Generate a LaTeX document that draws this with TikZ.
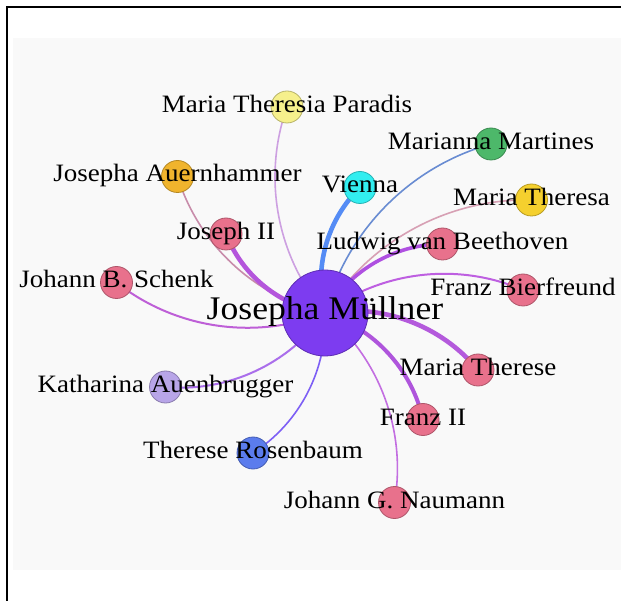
\documentclass[tikz,border=0pt]{standalone}
\usepackage{fontspec}
\setmainfont{Liberation Serif}[FakeStretch=1.08]

\pgfdeclarelayer{back}
\pgfdeclarelayer{links}
\pgfsetlayers{back,links,main}

% node fills
\definecolor{mull}{RGB}{125,60,240}
\definecolor{rose}{RGB}{232,113,140}
\definecolor{paleyellow}{RGB}{246,240,140}
\definecolor{leaf}{RGB}{77,184,106}
\definecolor{amber}{RGB}{240,180,45}
\definecolor{aqua}{RGB}{50,238,240}
\definecolor{gold}{RGB}{245,208,46}
\definecolor{lavender}{RGB}{184,165,232}
\definecolor{royal}{RGB}{91,124,237}
\definecolor{paper}{RGB}{249,249,249}

% link colours
\definecolor{l-paradis}{RGB}{205,160,225}
\definecolor{l-auern}{RGB}{200,140,170}
\definecolor{l-joseph}{RGB}{180,85,220}
\definecolor{l-vienna}{RGB}{85,140,245}
\definecolor{l-martines}{RGB}{105,140,210}
\definecolor{l-theresa}{RGB}{215,160,180}
\definecolor{l-beethoven}{RGB}{175,80,225}
\definecolor{l-bierfreund}{RGB}{190,95,225}
\definecolor{l-therese}{RGB}{180,90,220}
\definecolor{l-franz}{RGB}{175,85,220}
\definecolor{l-naumann}{RGB}{195,110,225}
\definecolor{l-rosenbaum}{RGB}{125,95,245}
\definecolor{l-katharina}{RGB}{170,110,235}
\definecolor{l-schenk}{RGB}{190,95,215}

\begin{document}
\begin{tikzpicture}[x=1pt,y=-1pt,
  person/.style={circle, inner sep=0pt, minimum size=32pt, line width=0.8pt},
  tag/.style={anchor=base, inner sep=0pt, font=\fontsize{25}{30}\selectfont},
  link/.style={bend left=30, looseness=0.91, line cap=round},
  thinlink/.style={link, line width=1.6pt},
  thicklink/.style={link, line width=4.6pt}]

\useasboundingbox (0,0) rectangle (621,601);

\begin{pgfonlayer}{back}
  \fill[paper] (13,38.5) rectangle (621,570);
  \draw[line width=2pt] (7,601) -- (7,7) -- (621,7);
\end{pgfonlayer}

% people and places
\node[person, minimum size=86pt, fill=mull, draw=mull!75!black] (jm) at (325,313) {};
\node[person, fill=paleyellow, draw=paleyellow!75!black] (paradis) at (287,107) {};
\node[person, fill=leaf, draw=leaf!75!black] (martines) at (491,144) {};
\node[person, fill=amber, draw=amber!75!black] (auern) at (177.5,176.5) {};
\node[person, fill=aqua, draw=aqua!75!black] (vienna) at (360,187.5) {};
\node[person, fill=gold, draw=gold!75!black] (theresa) at (531.5,200) {};
\node[person, fill=rose, draw=rose!75!black] (joseph) at (226,234) {};
\node[person, fill=rose, draw=rose!75!black] (beethoven) at (442.5,244) {};
\node[person, fill=rose, draw=rose!75!black] (schenk) at (116.5,282.5) {};
\node[person, fill=rose, draw=rose!75!black] (bierfreund) at (523,290) {};
\node[person, fill=rose, draw=rose!75!black] (therese) at (478,370) {};
\node[person, fill=lavender, draw=lavender!75!black] (katharina) at (165.5,387) {};
\node[person, fill=rose, draw=rose!75!black] (franz) at (423,419.5) {};
\node[person, fill=royal, draw=royal!75!black] (rosenbaum) at (253,453) {};
\node[person, fill=rose, draw=rose!75!black] (naumann) at (394.5,502.5) {};

% labels
\node[tag, font=\fontsize{33}{40}\selectfont] (t-jm) at (325,320) {Josepha Müllner};
\node[tag] (t-paradis) at (287,112.5) {Maria Theresia Paradis};
\node[tag] (t-martines) at (491,149.5) {Marianna Martines};
\node[tag] (t-auern) at (177.5,182) {Josepha Auernhammer};
\node[tag] (t-vienna) at (360,193) {Vienna};
\node[tag] (t-theresa) at (531.5,205.5) {Maria Theresa};
\node[tag] (t-joseph) at (226,239.5) {Joseph II};
\node[tag] (t-beethoven) at (442.5,249.5) {Ludwig van Beethoven};
\node[tag] (t-schenk) at (116.5,288) {Johann B. Schenk};
\node[tag] (t-bierfreund) at (523,295.5) {Franz Bierfreund};
\node[tag] (t-therese) at (478,375.5) {Maria Therese};
\node[tag] (t-katharina) at (165.5,392.5) {Katharina Auenbrugger};
\node[tag] (t-franz) at (423,425) {Franz II};
\node[tag] (t-rosenbaum) at (253,458.5) {Therese Rosenbaum};
\node[tag] (t-naumann) at (394.5,508) {Johann G. Naumann};

% arcs from the centre
\begin{pgfonlayer}{links}
  \draw[thinlink, draw=l-paradis] (jm.center) to (paradis.center);
  \draw[thinlink, draw=l-auern] (jm.center) to (auern.center);
  \draw[thicklink, draw=l-joseph] (jm.center) to (joseph.center);
  \draw[thicklink, draw=l-vienna] (jm.center) to (vienna.center);
  \draw[thinlink, draw=l-martines] (jm.center) to (martines.center);
  \draw[thinlink, draw=l-theresa] (jm.center) to (theresa.center);
  \draw[link, line width=3.6pt, draw=l-beethoven] (jm.center) to (beethoven.center);
  \draw[link, line width=2pt, draw=l-bierfreund] (jm.center) to (bierfreund.center);
  \draw[thicklink, draw=l-therese] (jm.center) to (therese.center);
  \draw[link, line width=4pt, draw=l-franz] (jm.center) to (franz.center);
  \draw[thinlink, draw=l-naumann] (jm.center) to (naumann.center);
  \draw[thinlink, draw=l-rosenbaum] (jm.center) to (rosenbaum.center);
  \draw[link, line width=2pt, draw=l-katharina] (jm.center) to (katharina.center);
  \draw[link, line width=2pt, draw=l-schenk] (jm.center) to (schenk.center);
\end{pgfonlayer}
\end{tikzpicture}
\end{document}
